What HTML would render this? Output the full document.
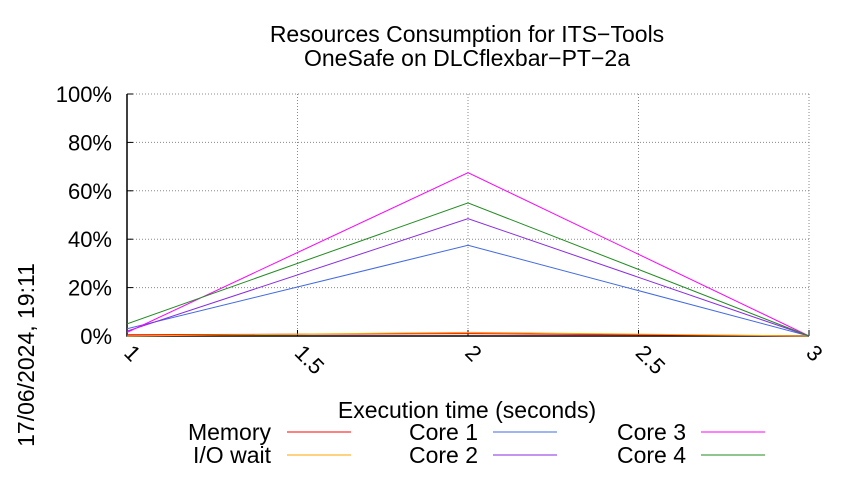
<!DOCTYPE html>
<html><head><meta charset="utf-8"><style>
body{margin:0;background:#fff;}
svg text{font-family:"Liberation Sans",sans-serif;fill:#000;}
</style></head><body>
<svg width="850" height="475" xmlns="http://www.w3.org/2000/svg">
<text x="467" y="42" font-size="23" text-anchor="middle">Resources Consumption for ITS−Tools</text>
<text x="467" y="66" font-size="23" text-anchor="middle">OneSafe on DLCflexbar−PT−2a</text>
<text transform="translate(34,355) rotate(-90)" font-size="23" text-anchor="middle">17/06/2024, 19:11</text>
<text x="467" y="418" font-size="23" text-anchor="middle">Execution time (seconds)</text>
<g id="grid"></g><g id="axes"></g><g id="series"></g><g id="legend"></g>
</svg>
<script>
const xTicks=[1,1.5,2,2.5,3];
const xTickLabels=["1","1.5","2","2.5","3"];
const yTicks=[0,20,40,60,80,100];
const yTickLabels=["0%","20%","40%","60%","80%","100%"];
const times=[1,2,3];
const memory=[0.5,1,0];
const ioWait=[0,1.5,0];
const core1=[3,37.5,0];
const core2=[2,48.5,0];
const core3=[1.5,67.5,0];
const core4=[5,55,0];
const seriesList=[
 {name:"Memory",vals:memory,color:"#ff0000",id:"memory"},
 {name:"I/O wait",vals:ioWait,color:"#ffa500",id:"io-wait"},
 {name:"Core 1",vals:core1,color:"#4169e1",id:"core-1"},
 {name:"Core 2",vals:core2,color:"#8a2be2",id:"core-2"},
 {name:"Core 3",vals:core3,color:"#ff00ff",id:"core-3"},
 {name:"Core 4",vals:core4,color:"#228b22",id:"core-4"}];
const X0=127,X1=809,Y0=336,Y1=94;
const xs=v=>X0+(v-1)/2*(X1-X0);
const ys=v=>Y0-v/100*(Y0-Y1);
const NS="http://www.w3.org/2000/svg";
function mk(tag,attrs,parent){const e=document.createElementNS(NS,tag);for(const k in attrs)e.setAttribute(k,attrs[k]);parent.appendChild(e);return e;}
const grid=document.getElementById('grid'),axes=document.getElementById('axes'),ser=document.getElementById('series'),leg=document.getElementById('legend');
yTicks.forEach((t,i)=>{
 if(t>0){const g=mk('line',{x1:X0,x2:X1,y1:ys(t),y2:ys(t),stroke:'#888','stroke-dasharray':'1,2','stroke-width':1},grid);
 
 }
 const tk=mk('line',{x1:X0,x2:X0+6,y1:ys(t),y2:ys(t),stroke:'#000'},axes);
 
 
 const tx=mk('text',{x:X0-15,y:ys(t)+8,'font-size':22,'text-anchor':'end'},axes);
 tx.textContent=yTickLabels[i];
 
 
});
xTicks.forEach((t,i)=>{
 if(t>1){const g=mk('line',{x1:xs(t),x2:xs(t),y1:Y1,y2:Y0,stroke:'#888','stroke-dasharray':'1,2','stroke-width':1},grid);
 
 }
 const tk=mk('line',{x1:xs(t),x2:xs(t),y1:Y0,y2:Y0-6,stroke:'#000'},axes);
 
 
 const x=xs(t),y=Y0+14;
 const tx=mk('text',{x:x,y:y,'font-size':22,transform:`rotate(45 ${x} ${y})`,'dominant-baseline':'middle'},axes);
 tx.textContent=xTickLabels[i];
 
 
});
const la=mk('polyline',{points:`${X0},${Y1} ${X0},${Y0} ${X1},${Y0}`,fill:'none',stroke:'#000','stroke-width':1.5},axes);


seriesList.forEach(s=>{
 const pts=times.map((t,i)=>xs(t)+','+ys(s.vals[i])).join(' ');
 const pl=mk('polyline',{points:pts,fill:'none',stroke:s.color,'stroke-width':1},ser);
 
 
});
const legPos=[[271,432,287],[271,455,287],[478,432,493],[478,455,493],[686,432,701],[686,455,701]];
seriesList.forEach((s,i)=>{
 const [tx,y,lx]=legPos[i];
 const t=mk('text',{x:tx,y:y+8,'font-size':23,'text-anchor':'end'},leg);
 t.textContent=s.name;
 
 
 const l=mk('line',{x1:lx,x2:lx+64,y1:y,y2:y,stroke:s.color,'stroke-width':1},leg);
 
 
});
</script>
</body></html>
